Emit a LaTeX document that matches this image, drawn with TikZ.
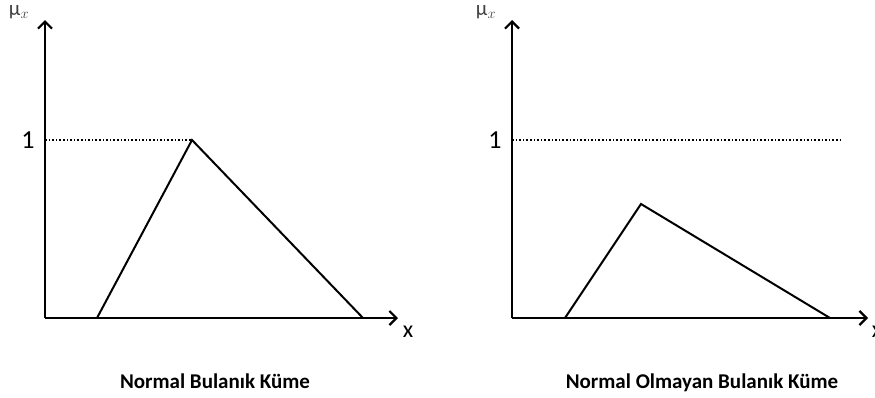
\documentclass[tikz,border=0pt]{standalone}
\usepackage{fontspec}
\setmainfont{Carlito}
\usetikzlibrary{arrows.meta}
\begin{document}
\begin{tikzpicture}[x=1pt,y=-1pt,
  axis/.style={line width=2.2pt,-{Straight Barb[length=7pt,width=14pt,line width=2.2pt]}},
  tri/.style={line width=2pt,line join=miter},
  dots/.style={line width=1.6pt,dotted},
  lbl/.style={font=\fontsize{26}{26}\selectfont,inner sep=0pt},
  ttl/.style={font=\bfseries\fontsize{21}{22}\selectfont,inner sep=0pt,anchor=base},
  xl/.style={font=\fontsize{24}{24}\selectfont,inner sep=0pt},
  mul/.style={font=\fontsize{21}{21}\selectfont,inner sep=0pt,text=black!75}]
\useasboundingbox (0,0) rectangle (875,397);
% left
\coordinate (lo) at (45,318);
\coordinate (ly) at (45,20);
\coordinate (lx) at (398,318);
\draw[axis] (lo) -- (ly);
\draw[axis] (lo) -- (lx);
\coordinate (l1) at (45,140);
\coordinate (la) at (97,318);
\coordinate (lb) at (192,140);
\coordinate (lc) at (363,318);
\draw[dots] (l1) -- (lb);
\draw[tri] (la) -- (lb) -- (lc);
\node[lbl] (lone) at (28,140) {1};
\node[xl] (lxl) at (408,332) {x};
\node[mul] (lmu) at (19,12) {μ$_x$};
\node[ttl] (lt) at (215,388) {Normal Bulanık Küme};
% right
\coordinate (ro) at (512,318);
\coordinate (ry) at (512,20);
\coordinate (rx) at (868,318);
\draw[axis] (ro) -- (ry);
\draw[axis] (ro) -- (rx);
\coordinate (r1) at (512,140);
\coordinate (r2) at (843,140);
\coordinate (ra) at (565,318);
\coordinate (rb) at (641,204);
\coordinate (rc) at (830,318);
\draw[dots] (r1) -- (r2);
\draw[tri] (ra) -- (rb) -- (rc);
\node[lbl] (rone) at (495,140) {1};
\node[xl] (rxl) at (877,332) {x};
\node[mul] (rmu) at (486,12) {μ$_x$};
\node[ttl] (rt) at (702,388) {Normal Olmayan Bulanık Küme};
\end{tikzpicture}
\end{document}
